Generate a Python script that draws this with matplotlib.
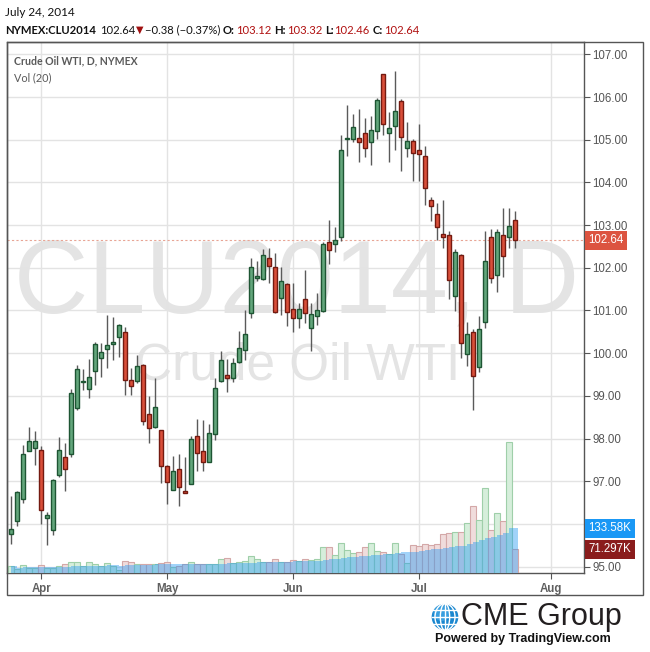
import matplotlib
matplotlib.use('Agg')
import matplotlib.pyplot as plt
from matplotlib.patches import Rectangle, Circle, Ellipse
import numpy as np
import pandas as pd

# trading days (NYMEX holidays removed)
holidays = pd.to_datetime(['2014-04-18', '2014-05-26', '2014-07-04'])
all_days = pd.bdate_range('2014-03-25', '2014-08-01').drop(holidays)
dates = all_days[all_days <= '2014-07-24']

opens = [95.76, 96.07, 96.58, 97.71, 97.77, 97.73, 96.13, 95.86, 97.14, 97.57,
         97.64, 98.71, 99.32, 99.15, 99.58, 99.88, 100.09, 100.21, 100.38, 100.49,
         99.37, 99.34, 99.72, 98.57, 98.26, 98.20, 97.36, 96.79, 97.28, 96.75,
         96.93, 98.06, 97.71, 97.46, 98.10, 99.34, 99.48, 99.43, 99.80, 100.07,
         100.93, 101.75, 101.73, 102.22, 102.03, 101.30, 101.62, 101.04, 100.83, 101.26,
         100.58, 100.86, 100.99, 102.60, 102.55, 102.73, 105.01, 105.02, 105.03, 105.15,
         104.95, 105.21, 106.53, 105.16, 105.33, 105.90, 104.80, 104.96, 104.76, 104.61,
         103.60, 103.25, 102.79, 102.76, 101.35, 102.31, 99.99, 100.49, 99.68, 100.74,
         102.71, 101.82, 102.78, 102.71, 103.12]
highs = [96.66, 96.78, 97.85, 98.28, 98.18, 97.83, 96.29, 97.05, 98.04, 97.89,
         99.17, 99.73, 99.63, 99.87, 100.26, 100.24, 100.90, 100.85, 100.69, 100.62,
         99.65, 99.96, 99.75, 99.00, 99.43, 98.20, 97.39, 97.60, 97.64, 97.57,
         98.05, 98.46, 98.44, 98.34, 99.41, 100.05, 99.86, 99.89, 100.52, 101.01,
         102.22, 102.17, 102.44, 102.46, 102.34, 102.01, 101.64, 101.64, 101.17, 101.95,
         101.18, 101.40, 102.61, 103.13, 102.96, 105.10, 105.81, 105.60, 105.73, 105.50,
         105.55, 105.97, 106.55, 105.66, 106.61, 105.95, 105.41, 105.02, 105.38, 104.85,
         103.67, 103.51, 103.59, 102.86, 102.44, 102.32, 100.72, 100.57, 100.87, 102.86,
         102.92, 102.92, 103.39, 103.39, 103.32]
lows = [95.52, 95.96, 96.50, 97.71, 97.39, 95.99, 95.51, 95.73, 97.11, 96.78,
        97.56, 98.68, 99.13, 98.96, 99.26, 99.45, 99.66, 99.84, 99.92, 99.01,
        99.02, 99.31, 98.31, 97.89, 98.24, 96.96, 96.46, 96.79, 96.41, 96.72,
        96.93, 97.23, 97.25, 97.44, 97.97, 99.32, 99.10, 99.33, 99.78, 99.83,
        100.83, 101.68, 101.72, 101.65, 100.95, 100.89, 100.64, 100.50, 100.60, 100.71,
        100.05, 100.66, 100.97, 102.08, 102.38, 102.63, 104.62, 104.95, 104.49, 104.60,
        104.42, 105.02, 105.11, 104.49, 104.77, 104.27, 104.60, 104.04, 104.03, 103.47,
        103.10, 102.65, 102.46, 101.27, 100.99, 99.88, 99.69, 98.66, 99.57, 100.58,
        101.64, 101.44, 101.78, 102.46, 102.46]
closes = [95.88, 96.75, 97.64, 97.94, 97.94, 96.32, 96.21, 97.03, 97.73, 97.28,
          99.06, 99.63, 99.34, 99.44, 100.22, 100.02, 100.19, 100.26, 100.66, 99.38,
          99.23, 99.70, 98.41, 98.24, 98.74, 97.35, 96.99, 97.24, 96.86, 96.73,
          97.99, 97.65, 97.45, 98.12, 99.18, 99.83, 99.43, 99.76, 100.11, 100.44,
          102.03, 101.80, 102.29, 102.05, 100.97, 101.70, 100.97, 100.83, 101.03, 100.95,
          100.91, 101.00, 102.55, 102.42, 102.64, 104.77, 105.03, 105.29, 104.95, 104.80,
          105.24, 105.92, 105.36, 105.27, 105.67, 105.06, 104.98, 104.68, 104.67, 103.86,
          103.45, 102.96, 102.73, 101.71, 102.36, 100.25, 100.44, 99.47, 100.56, 102.15,
          101.77, 102.85, 102.28, 102.97, 102.64]
# volume, thousands of contracts
volumes = [20, 11, 23, 15, 15, 23, 16, 15, 20, 26,
           34, 34, 22, 34, 26, 22, 31, 21, 10, 37,
           34, 28, 28, 26, 26, 31, 34, 18, 22, 28,
           34, 28, 28, 28, 28, 41, 46, 31, 34, 36,
           50, 41, 34, 34, 43, 34, 34, 38, 36, 43,
           38, 42, 77, 77, 53, 91, 70, 61, 64, 77,
           91, 67, 63, 58, 91, 58, 31, 85, 82, 88,
           84, 88, 115, 118, 121, 121, 148, 199, 157, 253,
           129.4, 178, 154, 391, 71.297]

month_names = ['Apr', 'May', 'Jun', 'Jul', 'Aug']
price_ticks = [95, 96, 97, 98, 99, 100, 101, 102, 103, 104, 105, 106, 107]
hidden_ticks = [96]  # covered by the volume value labels


def fx(px):
    return px / 650


def fy(py):
    return 1 - py / 652


o = np.array(opens)
c = np.array(closes)
x = np.arange(len(o))
up = c >= o
month_idx = [int(np.argmax(all_days.month == m)) for m in [4, 5, 6, 7, 8]]

fig = plt.figure(figsize=(6.5, 6.52), dpi=100)
ax = fig.add_axes([fx(7), fy(573), (584 - 7) / 650, (573 - 42) / 652])
ax.set_xlim(-0.72, 95.45)
ax.set_ylim(94.85, 107.29)

# volume pane on a twin axis (made first so the price ticks stay on the right)
ax2 = ax.twinx()
ax2.set_ylim(0, 1585)
ax2.axis('off')

# watermark
ax.text(fx(297), fy(312), 'CLU2014, D', transform=fig.transFigure, fontsize=74,
        family='Liberation Sans', color='#e4e4e4', ha='center', va='baseline', zorder=0.4)
ax.text(fx(298), fy(380), 'Crude Oil WTI', transform=fig.transFigure, fontsize=37,
        family='Liberation Sans', color='#e4e4e4', ha='center', va='baseline', zorder=0.4)

ax.set_axisbelow(True)
ax.grid(True, color='#e3e3e3', lw=1)
ax.set_xticks(month_idx)
ax.set_xticklabels(month_names, family='Liberation Sans', fontweight='bold', fontsize=8.3, color='#606060')
ax.set_yticks(price_ticks)
ax.set_yticklabels(['' if p in hidden_ticks else '%.2f' % p for p in price_ticks],
                   family='Liberation Sans', fontsize=8.3, color='#555555')
ax.yaxis.tick_right()
ax.yaxis.set_label_position('right')
ax.tick_params(axis='y', length=4, color='#555555', pad=2, width=0.8)
ax.tick_params(axis='x', length=4, color='#555555', pad=3, width=0.8)
for s in ax.spines.values():
    s.set_color('#555555')
    s.set_linewidth(1)

ax.axhline(closes[-1], color='#e8a595', lw=0.8, ls=(0, (2, 2)), zorder=1)

# candles
ax.vlines(x, lows, highs, color='#5a5a5a', lw=1, zorder=2)
bottom = np.minimum(o, c)
height = np.maximum(np.abs(c - o), 0.03)
ax.bar(x[up], height[up], bottom=bottom[up], width=0.72, color='#63a67c',
       edgecolor='#1e5533', lw=1, zorder=3)
ax.bar(x[~up], height[~up], bottom=bottom[~up], width=0.72, color='#d94f3a',
       edgecolor='#741a10', lw=1, zorder=3)

# volume bars + MA(20)
vol_fc = np.where(up, '#d6eedb', '#f0dcdc')
vol_ec = np.where(up, '#9fcfa9', '#d4a8a8')
ax2.bar(x, volumes, width=1.0, color=vol_fc, edgecolor=vol_ec, lw=0.8, zorder=1)
ma = pd.Series(volumes).rolling(20, min_periods=1).mean().values
ax2.fill_between(np.append(x, x[-1] + 0.5), np.append(ma, ma[-1]), step='post',
                 color='#2196f3', alpha=0.42, lw=0, zorder=2)

# last value labels
ax.annotate('%.2f' % closes[-1], xy=(1, closes[-1]), xycoords=('axes fraction', 'data'),
            xytext=(3.2, 0), textcoords='offset points', ha='left', va='center',
            fontsize=8.3, family='Liberation Sans', color='white', annotation_clip=False,
            bbox=dict(boxstyle='square,pad=0.3', fc='#dc5440', ec='none'), zorder=10)
ax2.annotate('%.2fK' % ma[-1], xy=(1, ma[-1]), xycoords=('axes fraction', 'data'),
             xytext=(3.2, 0), textcoords='offset points', ha='left', va='center',
             fontsize=8.3, family='Liberation Sans', color='white', annotation_clip=False,
             bbox=dict(boxstyle='square,pad=0.3', fc='#1a98f5', ec='none'), zorder=10)
ax2.annotate('%.3fK' % volumes[-1], xy=(1, volumes[-1]), xycoords=('axes fraction', 'data'),
             xytext=(3.2, 0), textcoords='offset points', ha='left', va='center',
             fontsize=8.3, family='Liberation Sans', color='white', annotation_clip=False,
             bbox=dict(boxstyle='square,pad=0.3', fc='#8a1c1c', ec='none'), zorder=10)

# legend texts in pane
fig.text(fx(14), fy(61), 'Crude Oil WTI, D, NYMEX', fontsize=7.6, family='Lato',
         fontweight='bold', color='#5a5a5a', va='center')
fig.text(fx(14), fy(78), 'Vol (20)', fontsize=7.8, family='Lato', color='#5a5a5a', va='center')

# outer frame
fig.add_artist(Rectangle((fx(7), fy(595)), (643 - 7) / 650, (595 - 42) / 652,
                         transform=fig.transFigure, fill=False, ec='#555555', lw=1))

# header, laid out piece by piece
fig.text(fx(5), fy(12), 'July 24, 2014', fontsize=8.5, family='Lato', color='#111111', va='center')
hdr = [('NYMEX:CLU2014', 'bold', '#111111', 4), ('102.64', 'normal', '#111111', 1),
       ('\u25bc', 'normal', '#a01010', 1), ('\u22120.38 (\u22120.37%)', 'normal', '#111111', 3),
       ('O:', 'bold', '#111111', 1), ('103.12', 'normal', '#b01010', 3),
       ('H:', 'bold', '#111111', 1), ('103.32', 'normal', '#b01010', 3),
       ('L:', 'bold', '#111111', 1), ('102.46', 'normal', '#b01010', 3),
       ('C:', 'bold', '#111111', 1), ('102.64', 'normal', '#b01010', 0)]
renderer = fig.canvas.get_renderer()
cur = 5.0
for s, w, col, gap in hdr:
    fam = ['DejaVu Sans'] if s == '\u25bc' else ['Lato', 'DejaVu Sans']
    size = 7 if s == '\u25bc' else 8.1
    t = fig.text(fx(cur), fy(30), s, fontsize=size, family=fam, fontweight=w, color=col, va='center')
    cur += t.get_window_extent(renderer).width + gap

# CME Group logo
lax = fig.add_axes([fx(431), fy(631), 28 / 650, 28 / 652])
lax.set_xlim(-1.05, 1.05)
lax.set_ylim(-1.05, 1.05)
lax.set_aspect('equal')
lax.axis('off')
lax.add_patch(Circle((0, 0), 1, fc='#1a87cf', ec='none'))
lax.add_patch(Circle((-0.25, 0.3), 0.6, fc='#4fb0ea', ec='none', alpha=0.6))
for w in [0.35, 0.75]:
    lax.add_patch(Ellipse((0, 0), 2 * w, 2, fill=False, ec='white', lw=1))
lax.plot([0, 0], [-1, 1], color='white', lw=1)
for yy in [-0.5, 0, 0.5]:
    hw = np.sqrt(1 - yy ** 2)
    lax.plot([-hw, hw], [yy, yy], color='white', lw=1)
fig.text(fx(461), fy(617), 'CME Group', fontsize=22, family='Liberation Sans',
         color='#231f20', va='center')
fig.text(fx(435), fy(639), 'Powered by TradingView.com', fontsize=9, family='Liberation Sans',
         fontweight='bold', color='#111111', va='center')

fig.savefig('out.png', dpi=100)
